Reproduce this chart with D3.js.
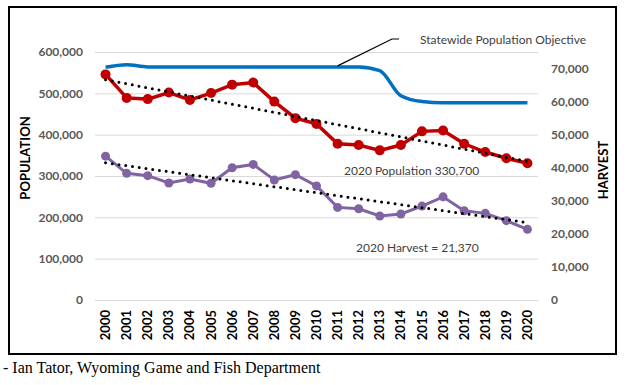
<!doctype html>
<meta charset="utf-8">
<style>
  body { margin: 0; background: #fff; }
  text { font-family: Lato, "Open Sans", sans-serif; }
</style>
<body>
<script src="https://cdn.jsdelivr.net/npm/d3@7"></script>
<script>
var years = d3.range(2000, 2021).map(String);
var population = [545800, 489000, 486000, 502000, 484000, 500700, 521000, 526000, 480000, 440000,
  426000, 378000, 375000, 362000, 375000, 408000, 410000, 378000, 358000, 343000, 330700];
var harvest = [43500, 38300, 37600, 35400, 36600, 35300, 40000, 41000, 36300, 37900,
  34500, 28000, 27600, 25400, 26000, 28400, 31200, 27000, 26200, 24000, 21370];
var objective = [563000, 569000, 564000, 564000, 564000, 564000, 564000, 564000, 564000, 564000,
  564000, 564000, 564000, 555000, 494000, 480000, 477000, 477000, 477000, 477000, 477000];
var popTicks = [0, 100000, 200000, 300000, 400000, 500000, 600000];
var harvTicks = [0, 10000, 20000, 30000, 40000, 50000, 60000, 70000];

var W = 626, H = 385;
var svg = d3.select('body').append('svg').attr('width', W).attr('height', H);

var x = d3.scaleBand().domain(years).range([95, 538]);
var yL = d3.scaleLinear().domain([0, 600000]).range([300, 52]);
var yR = d3.scaleLinear().domain([0, 75000]).range([300, 52]);
var cx = function(d, i){ return x(years[i]) + x.bandwidth() / 2; };

// frame
svg.append('rect').attr('x', 9).attr('y', 7).attr('width', 607).attr('height', 347)
  .attr('fill', 'none').attr('stroke', '#000').attr('stroke-width', 2);

// gridlines + left axis
var gl = svg.append('g').attr('transform', 'translate(95,0)')
  .call(d3.axisLeft(yL).tickValues(popTicks).tickSize(-443).tickFormat(d3.format(',')));
gl.select('.domain').remove();
gl.selectAll('line').attr('stroke', '#d9d9d9');
gl.selectAll('text').attr('x', -12).attr('fill', '#595959')
  .style('font-size', '12px').style('font-weight', 'bold');

var gr = svg.append('g').attr('transform', 'translate(538,0)')
  .call(d3.axisRight(yR).tickValues(harvTicks).tickSize(0).tickFormat(d3.format(',')));
gr.select('.domain').remove();
gr.selectAll('text').attr('x', 13).attr('fill', '#595959')
  .style('font-size', '12px').style('font-weight', 'bold');

// x axis
var gx = svg.append('g').attr('transform', 'translate(0,300)')
  .call(d3.axisBottom(x).tickSize(0));
gx.select('.domain').remove();
gx.selectAll('text').attr('transform', 'rotate(-90)').attr('x', -10).attr('y', 0)
  .attr('dy', '0.35em').style('text-anchor', 'end').attr('fill', '#000')
  .style('font-size', '13px').style('font-weight', 'bold');

// axis titles
svg.append('text').text('POPULATION').attr('transform', 'translate(30,158) rotate(-90)')
  .style('text-anchor', 'middle').style('font-size', '13px').style('font-weight', 'bold');
svg.append('text').text('HARVEST').attr('transform', 'translate(608,170) rotate(-90)')
  .style('text-anchor', 'middle').style('font-size', '13px').style('font-weight', 'bold');

function trend(vals){
  var n = vals.length, mx = d3.mean(vals, function(d, i){ return i; }), my = d3.mean(vals);
  var sxy = d3.sum(vals, function(d, i){ return (i - mx) * (d - my); });
  var sxx = d3.sum(vals, function(d, i){ return (i - mx) * (i - mx); });
  var b = sxy / sxx, a = my - b * mx;
  return [[0, a], [n - 1, a + b * (n - 1)]];
}
var tx = function(i){ return x(years[i]) + x.bandwidth() / 2; };

// objective line
svg.append('path').datum(objective)
  .attr('d', d3.line().x(cx).y(function(d){ return yL(d); }).curve(d3.curveMonotoneX))
  .attr('fill', 'none').attr('stroke', '#0070c0').attr('stroke-width', 3.5);

// population
svg.append('path').datum(population)
  .attr('d', d3.line().x(cx).y(function(d){ return yL(d); }))
  .attr('fill', 'none').attr('stroke', '#c00000').attr('stroke-width', 3.5);
svg.append('g').selectAll('circle').data(population).enter().append('circle')
  .attr('cx', cx).attr('cy', function(d){ return yL(d); }).attr('r', 5).attr('fill', '#c00000');

// harvest
svg.append('path').datum(harvest)
  .attr('d', d3.line().x(cx).y(function(d){ return yR(d); }))
  .attr('fill', 'none').attr('stroke', '#8064a2').attr('stroke-width', 3);
svg.append('g').selectAll('circle').data(harvest).enter().append('circle')
  .attr('cx', cx).attr('cy', function(d){ return yR(d); }).attr('r', 4.5).attr('fill', '#8064a2');

// trendlines
[[trend(population), yL], [trend(harvest), yR]].forEach(function(t){
  svg.append('path').datum(t[0])
    .attr('d', d3.line().x(function(d){ return tx(d[0]); }).y(function(d){ return t[1](d[1]); }))
    .attr('fill', 'none').attr('stroke', '#000').attr('stroke-width', 3)
    .attr('stroke-linecap', 'round').attr('stroke-dasharray', '0,6.8');
});

// annotations
svg.append('path').attr('d', 'M' + tx(11) + ',' + (yL(564000) - 1) + ' L392,39 L399,39')
  .attr('fill', 'none').attr('stroke', '#000').attr('stroke-width', 1.2);
svg.append('text').text('Statewide Population Objective').attr('x', 420).attr('y', 44)
  .attr('fill', '#404040').style('font-size', '12px');
svg.append('text').text('2020 Population 330,700').attr('x', 344).attr('y', 175)
  .attr('fill', '#404040').style('font-size', '12px');
svg.append('text').text('2020 Harvest = 21,370').attr('x', 356).attr('y', 252)
  .attr('fill', '#404040').style('font-size', '12px');

// source
svg.append('text').text('- Ian Tator, Wyoming Game and Fish Department').attr('x', 3).attr('y', 373)
  .style('font-family', '"Liberation Serif", "Times New Roman", serif').style('font-size', '16px');
</script>
</body>
